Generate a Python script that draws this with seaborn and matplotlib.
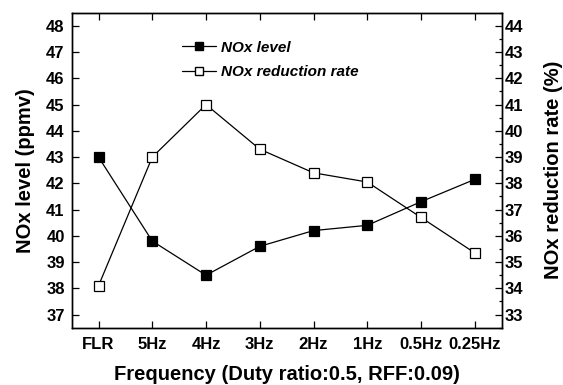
import numpy as np
import pandas as pd
import matplotlib
matplotlib.use("Agg")
import matplotlib.pyplot as plt
from matplotlib.lines import Line2D
from matplotlib.ticker import MultipleLocator
import seaborn as sns

# data
freqs = ["FLR", "5Hz", "4Hz", "3Hz", "2Hz", "1Hz", "0.5Hz", "0.25Hz"]
nox_level = [43.0, 39.8, 38.5, 39.6, 40.2, 40.4, 41.3, 42.15]
nox_reduction = [34.1, 39.0, 41.0, 39.3, 38.4, 38.05, 36.7, 35.35]

sns.set_style("ticks")
plt.rcParams['font.family'] = ['Liberation Sans', 'DejaVu Sans']
plt.rcParams['font.weight'] = 'bold'
plt.rcParams['text.color'] = 'black'
plt.rcParams['axes.labelcolor'] = 'black'
plt.rcParams['xtick.color'] = 'black'
plt.rcParams['ytick.color'] = 'black'

df = pd.DataFrame({"pos": np.arange(len(freqs)), "freq": freqs,
                   "level": nox_level, "rate": nox_reduction})

fig = plt.figure(figsize=(5.63, 3.85), dpi=100)
ax = fig.add_axes([0.1273, 0.1488, 0.7637, 0.8182])
ax2 = ax.twinx()

sns.lineplot(data=df, x="pos", y="level", ax=ax, color="black", lw=0.9,
             marker="s", markersize=6.5, markerfacecolor="black",
             markeredgecolor="black", markeredgewidth=0.9)
sns.lineplot(data=df, x="pos", y="rate", ax=ax2, color="black", lw=0.9,
             marker="s", markersize=6.5, markerfacecolor="white",
             markeredgecolor="black", markeredgewidth=0.9)

ax.set_xlim(-0.5, 7.5)
ax.set_ylim(36.5, 48.5)
ax2.set_ylim(32.5, 44.5)
ax.set_xticks(df["pos"])
ax.set_xticklabels(freqs)
ax.yaxis.set_major_locator(MultipleLocator(1))
ax2.yaxis.set_major_locator(MultipleLocator(1))
ax2.yaxis.set_minor_locator(MultipleLocator(0.5))

ax.tick_params(axis="x", direction="in", length=5, width=0.9, labelsize=12,
               top=True, pad=7)
ax.tick_params(axis="y", direction="in", length=5, width=0.9, labelsize=12,
               pad=5)
ax2.tick_params(axis="y", which="major", direction="in", length=5, width=0.9,
                labelsize=12, pad=2)
ax2.tick_params(axis="y", which="minor", direction="in", length=2.5, width=0.9)
for a in (ax, ax2):
    for s in a.spines.values():
        s.set_visible(True)
        s.set_linewidth(1.0)
        s.set_color("black")
    for lab in a.get_xticklabels() + a.get_yticklabels():
        lab.set_fontweight("bold")

ax.set_xlabel("Frequency (Duty ratio:0.5, RFF:0.09)", fontsize=14.5,
              fontweight="bold", labelpad=9)
ax.set_ylabel("NOx level (ppmv)", fontsize=14.5, fontweight="bold", labelpad=8)
ax2.set_ylabel("NOx reduction rate (%)", fontsize=14.5, fontweight="bold",
               labelpad=15)

handles = [
    Line2D([], [], color="black", lw=0.9, marker="s", markersize=6,
           markerfacecolor="black", markeredgecolor="black"),
    Line2D([], [], color="black", lw=0.9, marker="s", markersize=6,
           markerfacecolor="white", markeredgecolor="black"),
]
ax.legend(handles, ["NOx level", "NOx reduction rate"], frameon=False,
          loc="upper left", bbox_to_anchor=(0.225, 0.955), handlelength=2.2,
          handletextpad=0.35, labelspacing=0.7,
          prop={"size": 11, "weight": "bold", "style": "italic"})

fig.savefig("out.png", dpi=100)
